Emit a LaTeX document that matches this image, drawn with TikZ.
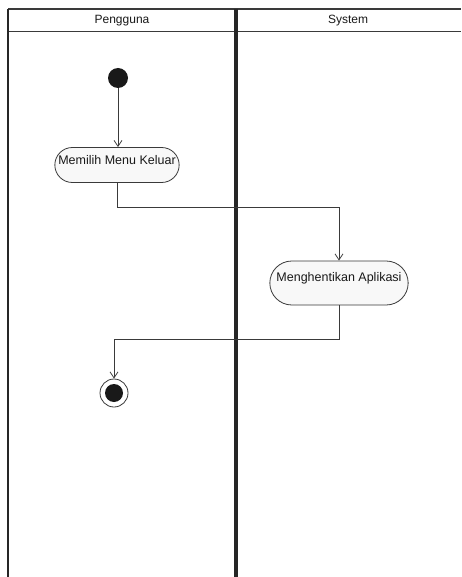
\documentclass[tikz,border=0pt]{standalone}
\usepackage{fontspec}
\setmainfont{Liberation Sans}
\usetikzlibrary{arrows.meta,shapes.misc}
\definecolor{ln}{HTML}{3A3A3A}
\definecolor{fillg}{HTML}{F8F8F8}
\tikzset{
  activity/.style={rounded rectangle, draw=ln, line width=0.8pt, fill=fillg, font=\fontsize{12.5}{14}\selectfont, text=black!90, anchor=center},
  flow/.style={draw=ln, line width=0.8pt, -{Straight Barb[length=6pt,width=8pt]}},
  lane/.style={font=\fontsize{12}{14}\selectfont, text=black!90},
}
\begin{document}
\begin{tikzpicture}[x=1pt,y=-1pt]
\useasboundingbox[fill=white] (0,0) rectangle (461,577);
% swimlane frame
\draw[ln, line width=1.5pt] (8,9) -- (461,9);
\draw[ln, line width=1pt] (8,32) -- (461,32);
\draw[black!85, line width=2pt] (8,9) -- (8,577);
\draw[black!85, line width=3.5pt] (236,9) -- (236,577);
\node[lane] (lane1) at (122,21) {Pengguna};
\node[lane] (lane2) at (348,21) {System};
% nodes
\node[circle, fill=black!90, minimum size=20pt, inner sep=0pt] (start) at (118,78) {};
\node[activity, minimum width=131pt, minimum height=35pt, text depth=10pt] (a1) at (117,165) {Memilih Menu Keluar};
\node[activity, minimum width=145pt, minimum height=44pt, text depth=12pt] (a2) at (339,283) {Menghentikan Aplikasi};
\node[circle, draw=ln, line width=0.8pt, fill=white, minimum size=28pt, inner sep=0pt] (end) at (114,393) {};
\node[circle, fill=black!90, minimum size=18pt, inner sep=0pt] (endin) at (end.center) {};
% flows
\draw[flow] (start) -- (start |- a1.north);
\draw[flow] (a1.south) |- (339,207) -- (a2.north);
\draw[flow] (a2.south) |- (114,339) -- (end.north);
\end{tikzpicture}
\end{document}
